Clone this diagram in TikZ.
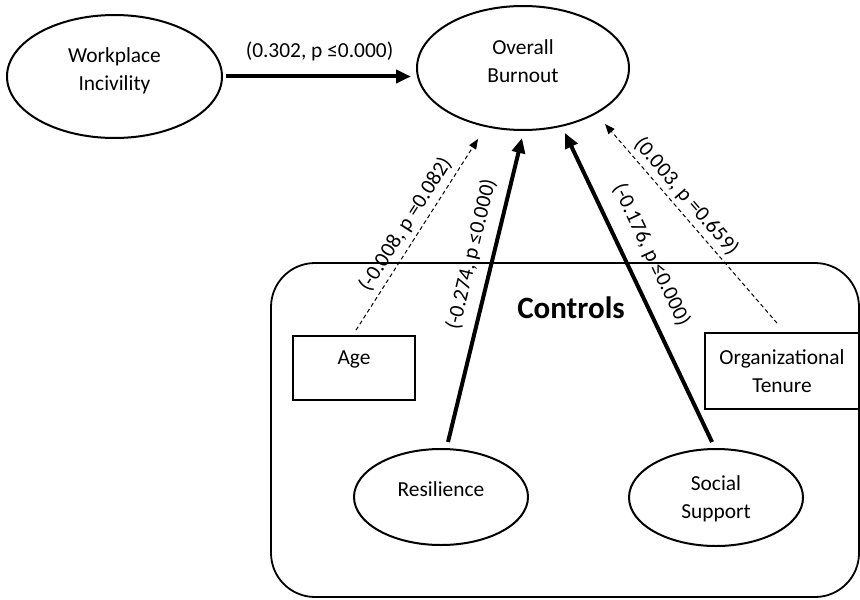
\documentclass[tikz,border=0pt]{standalone}
\usepackage{fontspec}
\setmainfont{Carlito}
\usepackage{tikz}
\usetikzlibrary{shapes,arrows.meta,positioning,calc}

\begin{document}
\begin{tikzpicture}[
    x=0.5pt, y=-0.5pt,
    every node/.style={font=\fontsize{10.7}{14}\selectfont},
    latent/.style={draw, ellipse, line width=1pt, inner sep=0pt, align=center},
    observed/.style={draw, rectangle, line width=0.9pt, inner sep=0pt, align=center},
    lifted/.style={text depth=#1},
    strongpath/.style={-{Triangle[length=7.5pt, width=6.5pt]}, line width=2pt},
    weakpath/.style={-{Triangle[length=5pt, width=4pt]}, line width=0.5pt, dash pattern=on 2pt off 1.5pt},
    coef/.style={sloped, inner sep=1.5pt},
]
    \useasboundingbox (0,0) rectangle (860,599);
    % Controls frame
    \node[draw, rounded corners=22pt, line width=0.9pt, minimum width=294pt, minimum height=167pt, inner sep=0pt] (controls) at (565,430) {};
    \node[font=\fontsize{15.5}{18}\selectfont\bfseries] (ctrltitle) at (571,308) {Controls};
    % Main constructs
    \node[latent, lifted=7.8pt, minimum width=107.5pt, minimum height=61.5pt] (incivility) at (114.5,76.5) {Workplace\\Incivility};
    \node[latent, lifted=7pt, minimum width=106pt, minimum height=62pt] (burnout) at (523,68) {Overall\\Burnout};
    % Control variables
    \node[observed, lifted=10pt, minimum width=61pt, minimum height=32pt] (age) at (354,368) {Age};
    \node[observed, minimum width=77pt, minimum height=38pt] (tenure) at (782,371) {Organizational\\Tenure};
    \node[latent, lifted=8pt, minimum width=87pt, minimum height=48pt] (resilience) at (441,497) {Resilience};
    \node[latent, lifted=0pt, minimum width=87pt, minimum height=48.5pt] (support) at (716,497.5) {Social\\Support};
    % Arrow ends below the outcome
    \coordinate (tAge) at ($(burnout.south)+(-45,8)$);
    \coordinate (tRes) at ($(burnout.south)+(-1,7)$);
    \coordinate (tSup) at ($(burnout.south)+(42,2)$);
    \coordinate (tTen) at ($(burnout.south)+(82,-7)$);
    % Main effect
    \draw[strongpath, shorten <=1.5pt, shorten >=2.5pt] (incivility.east) -- (incivility.east -| burnout.west)
        node[midway, above=5.5pt, inner sep=1.5pt] {(0.302, p ≤0.000)};
    % Control effects
    \draw[weakpath] ($(age.north)+(2,-5)$) -- (tAge) node[coef, pos=0.51, above=1pt] {(-0.008, p =0.082)};
    \draw[strongpath] ($(resilience.north)+(7,-6)$) -- (tRes) node[coef, pos=0.6, above=3.5pt] {(-0.274, p ≤0.000)};
    \draw[strongpath] ($(support.north)+(-4,-6)$) -- (tSup) node[coef, pos=0.57, above=5.5pt] {(-0.176, p ≤0.000)};
    \draw[weakpath] ($(tenure.north)+(-5,-9)$) -- (tTen) node[coef, pos=0.59, above=0.5pt] {(0.003, p =0.659)};
\end{tikzpicture}
\end{document}
